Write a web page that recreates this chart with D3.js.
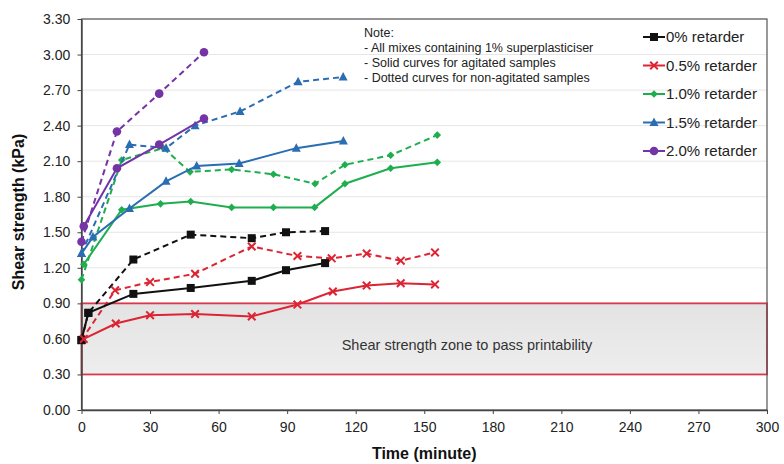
<!DOCTYPE html>
<html><head><meta charset="utf-8">
<script src="https://cdn.jsdelivr.net/npm/d3@7"></script>
<style>
html,body{margin:0;padding:0;background:#fff;}
svg text{font-family:"Liberation Sans",Arial,sans-serif;}
</style></head>
<body><svg id="c" width="784" height="464"></svg>
<script>
// ---- data ----
const seriesNames = ["0% retarder","0.5% retarder","1.0% retarder","1.5% retarder","2.0% retarder"];
const seriesColors = ["#111111","#dc2433","#1fae4f","#2a6db3","#7434a6"];
const seriesMarkers = ["square","cross","diamond","triangle","circle"];

// agitated samples (solid curves)
const solidTime = [
  [0,3,22.7,47.8,74.5,89.5,106.6],
  [1,15,30,49.7,74.5,94.5,110,124.8,139.7,154.7],
  [1,17.6,34.6,47.8,65.7,84,102,115.3,135.3,155.7],
  [0,5,21,37,50.4,69,94,114.6],
  [1,15.5,34,53.6]
];
const solidValue = [
  [0.59,0.82,0.98,1.03,1.09,1.18,1.24],
  [0.60,0.73,0.80,0.81,0.79,0.89,1.00,1.05,1.07,1.06],
  [1.23,1.69,1.74,1.76,1.71,1.71,1.71,1.91,2.04,2.09],
  [1.32,1.46,1.70,1.93,2.06,2.08,2.21,2.27],
  [1.55,2.04,2.24,2.46]
];
// non-agitated samples (dotted curves)
const dashTime = [
  [0,3,22.7,47.8,74.5,89.5,106.6],
  [0,14.7,30,49.7,74.5,94.5,109.5,124.8,139.7,154.7],
  [0,17.6,35.8,47.5,65.7,84,102.2,115.3,135.3,155.7],
  [0,21,37,49.7,69.4,94.8,114.5],
  [0,15.5,34,53.6]
];
const dashValue = [
  [0.59,0.82,1.27,1.48,1.45,1.50,1.51],
  [0.59,1.01,1.08,1.15,1.38,1.30,1.28,1.32,1.26,1.33],
  [1.10,2.11,2.21,2.01,2.03,1.99,1.91,2.07,2.15,2.32],
  [1.32,2.24,2.21,2.40,2.52,2.77,2.81],
  [1.42,2.35,2.67,3.02]
];
const xTicks = [0,30,60,90,120,150,180,210,240,270,300];
const yTicks = [0,0.3,0.6,0.9,1.2,1.5,1.8,2.1,2.4,2.7,3.0,3.3];
const zoneRange = [0.30,0.90];
const zoneLabel = "Shear strength zone to pass printability";
const noteLines = ["Note:","- All mixes containing 1% superplasticiser","- Solid curves for agitated samples","- Dotted curves for non-agitated samples"];
const xTitle = "Time (minute)";
const yTitle = "Shear strength (kPa)";

// ---- layout ----
const L = 81.5, R = 767, T = 19, B = 410;
const svg = d3.select("#c");
const x = d3.scaleLinear().domain([0,300]).range([L,R]);
const y = d3.scaleLinear().domain([0,3.3]).range([B,T]);

// gridlines
svg.append("g").selectAll("line").data(yTicks.slice(1)).join("line")
  .attr("x1",L).attr("x2",R).attr("y1",d=>y(d)).attr("y2",d=>y(d))
  .attr("stroke","#e6e6e6").attr("stroke-width",1);

// zone
const grad = svg.append("defs").append("linearGradient").attr("id","zg").attr("x1",0).attr("x2",0).attr("y1",0).attr("y2",1);
grad.append("stop").attr("offset","0%").attr("stop-color","#e3e3e3");
grad.append("stop").attr("offset","100%").attr("stop-color","#eeeeee");
svg.append("rect").attr("x",L).attr("y",y(zoneRange[1])).attr("width",R-L)
  .attr("height",y(zoneRange[0])-y(zoneRange[1]))
  .attr("fill","url(#zg)").attr("stroke","#d8384e").attr("stroke-width",1.8);
svg.append("text").attr("x",467).attr("y",(y(zoneRange[0])+y(zoneRange[1]))/2+11)
  .attr("text-anchor","middle").attr("font-size",14.5).attr("fill","#333").text(zoneLabel);

// frame
svg.append("rect").attr("x",L).attr("y",T).attr("width",R-L).attr("height",B-T)
  .attr("fill","none").attr("stroke","#555").attr("stroke-width",1.2);

// axes
const xa = svg.append("g").attr("transform",`translate(0,${B})`)
  .call(d3.axisBottom(x).tickValues(xTicks).tickFormat(d3.format("d")).tickSize(4).tickSizeOuter(0));
const ya = svg.append("g").attr("transform",`translate(${L},0)`)
  .call(d3.axisLeft(y).tickValues(yTicks).tickFormat(d3.format(".2f")).tickSize(4).tickSizeOuter(0));
[xa,ya].forEach(a=>{
  a.select(".domain").attr("stroke","#444").attr("stroke-width",1.4);
  a.selectAll(".tick line").attr("stroke","#444");
  a.selectAll("text").attr("fill","#222").attr("font-size",14)
   .style("font-family","'Liberation Sans',Arial,sans-serif");
});
xa.selectAll("text").attr("dy","1.05em");
ya.selectAll("text").attr("dx","-0.3em");

// titles
svg.append("text").attr("x",(L+R)/2).attr("y",459).attr("text-anchor","middle")
  .attr("font-size",16).attr("font-weight","bold").attr("fill","#111")
  .style("font-family","'Liberation Sans Narrow','Liberation Sans',Arial,sans-serif").text(xTitle);
svg.append("text").attr("transform","translate(24,212) rotate(-90)").attr("text-anchor","middle")
  .attr("font-size",16).attr("font-weight","bold").attr("fill","#111").text(yTitle);

// note
svg.append("g").selectAll("text").data(noteLines).join("text")
  .attr("x",364).attr("y",(d,i)=>37+i*15).attr("font-size",12.5).attr("fill","#222").text(d=>d);

// markers
function drawMarker(g, type, cx, cy, color){
  if(type==="square") g.append("rect").attr("x",cx-4).attr("y",cy-4).attr("width",8).attr("height",8).attr("fill",color);
  else if(type==="circle") g.append("circle").attr("cx",cx).attr("cy",cy).attr("r",4.3).attr("fill",color);
  else if(type==="diamond") g.append("path").attr("d",`M${cx},${cy-3.8}L${cx+3.8},${cy}L${cx},${cy+3.8}L${cx-3.8},${cy}Z`).attr("fill",color);
  else if(type==="triangle") g.append("path").attr("d",`M${cx},${cy-5}L${cx+4.5},${cy+3.5}L${cx-4.5},${cy+3.5}Z`).attr("fill",color);
  else if(type==="cross") g.append("path").attr("d",`M${cx-3.8},${cy-3.8}L${cx+3.8},${cy+3.8}M${cx-3.8},${cy+3.8}L${cx+3.8},${cy-3.8}`).attr("stroke",color).attr("stroke-width",2);
}

const line = d3.line().x(d=>x(d[0])).y(d=>y(d[1]));
const plot = svg.append("g");
function drawSeries(times, values, i, dashed){
  const pts = times.map((t,k)=>[t, values[k]]);
  plot.append("path").attr("d",line(pts)).attr("fill","none")
    .attr("stroke",seriesColors[i]).attr("stroke-width",2)
    .attr("stroke-dasharray",dashed?"6,4":null);
  const mg = plot.append("g");
  pts.forEach(p=>drawMarker(mg, seriesMarkers[i], x(p[0]), y(p[1]), seriesColors[i]));
}
seriesNames.forEach((n,i)=>{ drawSeries(dashTime[i], dashValue[i], i, true); });
seriesNames.forEach((n,i)=>{ drawSeries(solidTime[i], solidValue[i], i, false); });

// legend
const lg = svg.append("g");
seriesNames.forEach((n,i)=>{
  const yy = 37 + i*28.5;
  lg.append("line").attr("x1",643).attr("x2",665).attr("y1",yy).attr("y2",yy)
    .attr("stroke",seriesColors[i]).attr("stroke-width",2);
  drawMarker(lg, seriesMarkers[i], 654, yy, seriesColors[i]);
  lg.append("text").attr("x",666).attr("y",yy+5).attr("font-size",15).attr("fill","#222").text(n);
});
</script></body></html>
